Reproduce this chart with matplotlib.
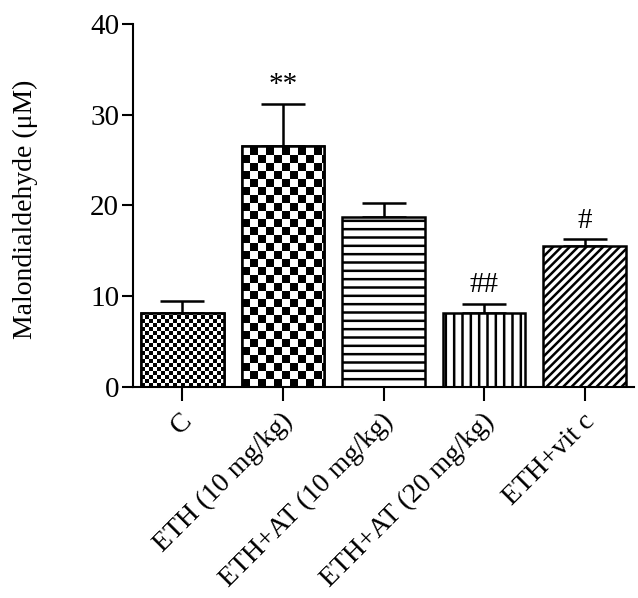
import numpy as np
import matplotlib
matplotlib.use("Agg")
import matplotlib.pyplot as plt
from matplotlib.transforms import ScaledTranslation

plt.rcParams['font.family'] = ['Liberation Serif', 'DejaVu Serif']
plt.rcParams['hatch.linewidth'] = 1.8
plt.rcParams['hatch.color'] = 'black'

# data
groups = ["C", "ETH (10 mg/kg)", "ETH+AT (10 mg/kg)", "ETH+AT (20 mg/kg)", "ETH+vit c"]
means = [8.1, 26.6, 18.7, 8.2, 15.5]
errs = [1.4, 4.6, 1.6, 1.0, 0.8]
marks = ["", "**", "", "##", "#"]
hatches = [None, None, "--", "||", "////"]
checker_px = [4, 8, 0, 0, 0]   # checkerboard cell size in pixels (0 = none)

fig = plt.figure(figsize=(6.38, 5.98), dpi=100)
ax = fig.add_axes([0.2085, 0.3528, 0.7852, 0.6072])

x = np.arange(len(groups))
width = 0.82
ax.set_xlim(-0.49, len(groups) - 0.51)
ax.set_ylim(0, 40)

bars = ax.bar(x, means, width, color='white', edgecolor='black', linewidth=1.8, zorder=2)
for b, h in zip(bars, hatches):
    if h:
        b.set_hatch(h)

# checkerboards clipped to bars
fig.canvas.draw()
px_per_x = ax.transData.transform((1, 0))[0] - ax.transData.transform((0, 0))[0]
px_per_y = ax.transData.transform((0, 1))[1] - ax.transData.transform((0, 0))[1]
for b, cpx, m in zip(bars, checker_px, means):
    if not cpx:
        continue
    cw = cpx / px_per_x
    ch = cpx / px_per_y
    ncols = int(np.ceil(width / cw))
    nrows = int(np.ceil(m / ch)) + 1
    grid = np.indices((nrows, ncols)).sum(axis=0) % 2
    x0 = b.get_x()
    im = ax.imshow(grid, cmap='gray', interpolation='nearest', aspect='auto',
                   extent=(x0, x0 + ncols * cw, 0, nrows * ch), origin='lower',
                   zorder=2.5)
    im.set_clip_path(b)
    # redraw outline on top
    ax.bar(b.get_x() + width / 2, m, width, fill=False, edgecolor='black',
           linewidth=1.8, zorder=3)

ax.errorbar(x, means, yerr=[np.zeros(len(errs)), errs], fmt='none', ecolor='black',
            elinewidth=1.8, capsize=15.5, capthick=1.8, zorder=1)

for xi, m, e, t in zip(x, means, errs, marks):
    if t:
        ax.text(xi, m + e + 0.6, t, ha='center', va='bottom', fontsize=21)

ax.set_xlim(-0.49, len(groups) - 0.51)
ax.set_ylim(0, 40)
ax.set_yticks([0, 10, 20, 30, 40])
ax.set_xticks(x)
ax.set_xticklabels(groups, rotation=45, ha='right', va='center',
                   rotation_mode='anchor', fontsize=20)
ax.tick_params(axis='y', labelsize=21, width=1.5, length=8, pad=2)
ax.tick_params(axis='x', width=1.5, length=10, pad=12)
shift = ScaledTranslation(6 / 100, 0, fig.dpi_scale_trans)
for lab in ax.get_xticklabels():
    lab.set_transform(lab.get_transform() + shift)
ax.set_ylabel("Malondialdehyde (μM)", fontsize=20)
ax.yaxis.set_label_coords(-0.19, 0.49)

for s in ['top', 'right']:
    ax.spines[s].set_visible(False)
for s in ['left', 'bottom']:
    ax.spines[s].set_linewidth(1.5)

fig.savefig("out.png", dpi=100)
